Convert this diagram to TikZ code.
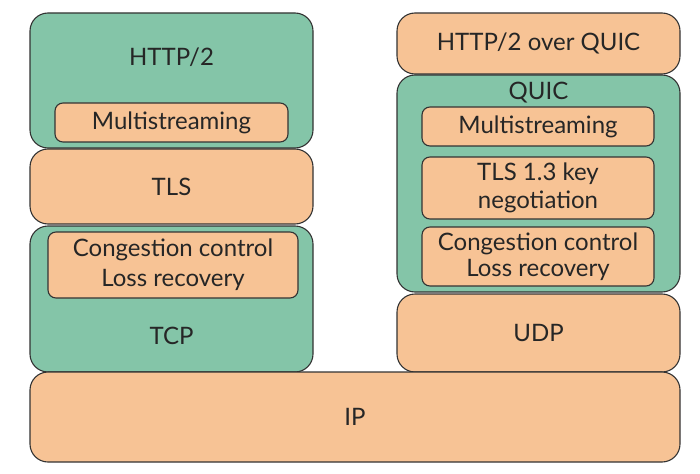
\documentclass[tikz,border=0pt]{standalone}
\usepackage{fontspec}
\setmainfont{Lato}
\definecolor{quicgreen}{RGB}{132,197,168}
\definecolor{layerorange}{RGB}{247,195,149}

\begin{document}
\begin{tikzpicture}
  [x=1pt,y=-1pt,
   every node/.style={font=\fontsize{24}{26}\selectfont,text=black!85},
   box/.style={draw=black!80,line width=1.1pt,rounded corners=18pt,inner sep=0pt},
   green/.style={box,fill=quicgreen},
   orange/.style={box,fill=layerorange},
   inner/.style={box,fill=layerorange,rounded corners=8pt,align=center}]
  \useasboundingbox (0,0) rectangle (700,473);

  % left stack
  \node[green,minimum width=283pt,minimum height=135pt] (http) at (171.5,80.5) {};
  \node (httplabel) at (171.5,57) {HTTP/2};
  \node[inner,minimum width=233pt,minimum height=39pt] (msleft) at (171.5,122.5) {Multistreaming};
  \node[orange,minimum width=283pt,minimum height=75pt] (tls) at (171.5,186.5) {TLS};
  \node[green,minimum width=283pt,minimum height=146pt] (tcp) at (171.5,299) {};
  \node (tcplabel) at (171.5,336) {TCP};
  \node[inner,minimum width=250pt,minimum height=66pt] (ccleft) at (173,265)
    {Congestion control\\[4pt]Loss recovery};

  % right stack
  \node[orange,minimum width=283pt,minimum height=61pt] (hq) at (538.5,43.5) {HTTP/2 over QUIC};
  \node[green,minimum width=283pt,minimum height=217pt] (quic) at (538.5,183.5) {};
  \node (quiclabel) at (538.5,93) {QUIC};
  \node[inner,minimum width=232pt,minimum height=39pt] (msright) at (538,126.5) {Multistreaming};
  \node[inner,minimum width=232pt,minimum height=62pt] (tlskey) at (538,188)
    {TLS 1.3 key\\[2pt]negotiation};
  \node[inner,minimum width=232pt,minimum height=59pt] (ccright) at (538,256.5)
    {Congestion control\\Loss recovery};
  \node[orange,minimum width=283pt,minimum height=78pt] (udp) at (538.5,333) {UDP};

  % network layer
  \node[orange,minimum width=650pt,minimum height=90pt] (ip) at (355,417) {IP};

\end{tikzpicture}
\end{document}
